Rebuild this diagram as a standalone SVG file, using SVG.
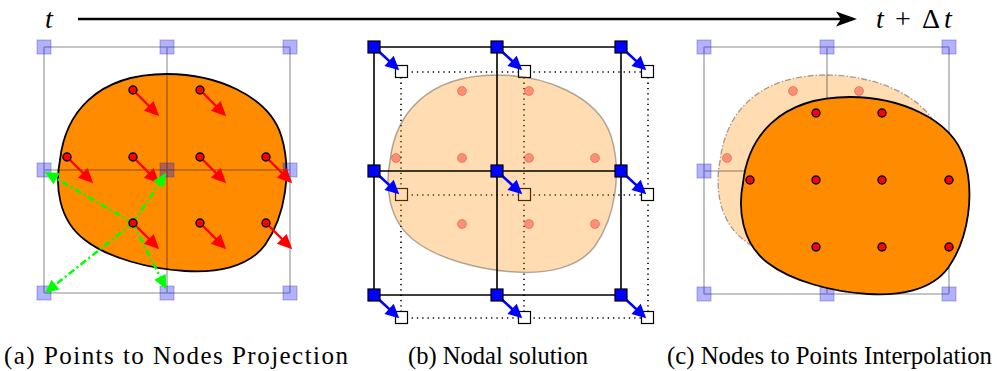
<svg xmlns="http://www.w3.org/2000/svg" width="997" height="371" viewBox="0 0 997 371">
<style>
  .blob { fill:#ff8c00; stroke:#000; stroke-width:1.8; }
  .blobFade { fill:#ff8c00; fill-opacity:0.3; stroke:#000; stroke-opacity:0.3; stroke-width:1.5; }
  .blobGhost { fill:#ff8c00; fill-opacity:0.3; stroke:#000; stroke-opacity:0.35; stroke-width:1.3; stroke-dasharray:6,2,1.5,2; }
  .gridFaint { stroke:#000; stroke-opacity:0.3; stroke-width:1.6; fill:none; }
  .nodeFaint { fill:#0000ff; fill-opacity:0.3; stroke:#3333aa; stroke-opacity:0.3; stroke-width:1.2; }
  .pt { fill:#ff0000; stroke:#000; stroke-width:1.4; }
  .ptFade { fill:#ff0000; fill-opacity:0.35; stroke:#800000; stroke-opacity:0.25; stroke-width:1; }
  .red { stroke:#ff0000; stroke-width:2.4; fill:none; marker-end:url(#ahRed); }
  .green { stroke:#00ff00; stroke-width:2.5; fill:none; stroke-dasharray:7,3,2,3; marker-end:url(#ahGreen); }
  .blue { stroke:#0000ff; stroke-width:2.6; fill:none; marker-end:url(#ahBlue); }
  .gridSolid { stroke:#000; stroke-width:1.6; fill:none; }
  .gridDot { stroke:#000; stroke-width:1.6; fill:none; stroke-dasharray:1.3,4; }
  .nodeBlue { fill:#0000ff; stroke:#000; stroke-width:1.2; }
  .nodeWhite { fill:#fff; stroke:#000; stroke-width:1.2; }
  text { font-family:"Liberation Serif", "DejaVu Serif", "Noto Serif", serif; fill:#000; }
  .math { font-size:28px; }
  .cap { font-size:25px; }
</style>
<defs>
  <path id="blob" d="M167,74 C215,74 268,95 281,135 C292,170 286,215 265,245 C248,268 215,273 185,271 C150,269 108,258 85,240 C58,220 55,185 60,160 C65,115 95,74 167,74 Z"/>
  <marker id="ahRed" markerUnits="userSpaceOnUse" markerWidth="18" markerHeight="18" viewBox="-15 -8 17 16" refX="-5" refY="0" orient="auto">
    <path d="M0,0 L-14,-6.5 L-14,6.5 Z" fill="#ff0000"/>
  </marker>
  <marker id="ahGreen" markerUnits="userSpaceOnUse" markerWidth="18" markerHeight="18" viewBox="-15 -8 17 16" refX="-5" refY="0" orient="auto">
    <path d="M0,0 L-13,-6 L-13,6 Z" fill="#00ff00"/>
  </marker>
  <marker id="ahBlue" markerUnits="userSpaceOnUse" markerWidth="18" markerHeight="18" viewBox="-15 -8 17 16" refX="-5" refY="0" orient="auto">
    <path d="M0,0 L-13,-6.5 L-13,6.5 Z" fill="#0000ff"/>
  </marker>
</defs>

<!-- time axis -->
<g id="time-axis">
  <line x1="78" y1="19" x2="842" y2="19" stroke="#000" stroke-width="2.6"/>
  <path d="M857,19 L836,11.5 L841,19 L836,26.5 Z" fill="#000"/>
  <text class="math" x="45" y="28" font-style="italic">t</text>
  <text class="math" y="28"><tspan x="876" font-style="italic">t</tspan><tspan x="895">+</tspan><tspan x="922">Δ</tspan><tspan x="944" font-style="italic">t</tspan></text>
</g>

<!-- panel (a) -->
<g id="panel-a">
  <use href="#blob" class="blob"/>
  <g id="grid-a" class="gridFaint">
    <path d="M44,47 H290 M44,170 H290 M44,293 H290 M44,47 V293 M167,47 V293 M290,47 V293"/>
  </g>
  <g id="nodes-a">
    <rect class="nodeFaint" x="37" y="40" width="14" height="14"/>
    <rect class="nodeFaint" x="160" y="40" width="14" height="14"/>
    <rect class="nodeFaint" x="283" y="40" width="14" height="14"/>
    <rect class="nodeFaint" x="37" y="163" width="14" height="14"/>
    <rect class="nodeFaint" x="160" y="163" width="14" height="14"/>
    <rect class="nodeFaint" x="283" y="163" width="14" height="14"/>
    <rect class="nodeFaint" x="37" y="286" width="14" height="14"/>
    <rect class="nodeFaint" x="160" y="286" width="14" height="14"/>
    <rect class="nodeFaint" x="283" y="286" width="14" height="14"/>
  </g>
  <g id="connectors-a">
    <path class="red" d="M133,90 L155.5,112.5"/>
    <path class="red" d="M200,90 L222.5,112.5"/>
    <path class="red" d="M67,157 L89.5,179.5"/>
    <path class="red" d="M133,157 L155.5,179.5"/>
    <path class="red" d="M200,157 L222.5,179.5"/>
    <path class="red" d="M266,157 L288.5,179.5"/>
    <path class="red" d="M133,223 L155.5,245.5"/>
    <path class="red" d="M200,223 L222.5,245.5"/>
    <path class="red" d="M266,223 L288.5,245.5"/>
    <path class="green" d="M133,223 L49.3,174.5"/>
    <path class="green" d="M133,223 L163.3,177.2"/>
    <path class="green" d="M133,223 L48.9,289.9"/>
    <path class="green" d="M133,223 L163.9,284.5"/>
  </g>
  <g id="points-a">
    <circle class="pt" cx="133" cy="90" r="4"/>
    <circle class="pt" cx="200" cy="90" r="4"/>
    <circle class="pt" cx="67" cy="157" r="4"/>
    <circle class="pt" cx="133" cy="157" r="4"/>
    <circle class="pt" cx="200" cy="157" r="4"/>
    <circle class="pt" cx="266" cy="157" r="4"/>
    <circle class="pt" cx="133" cy="223" r="4"/>
    <circle class="pt" cx="200" cy="223" r="4"/>
    <circle class="pt" cx="266" cy="223" r="4"/>
  </g>
</g>

<!-- panel (b) -->
<g id="panel-b">
  <g id="grid-b-displaced" class="gridDot">
    <path d="M401,72 H648 M401,195 H648 M401,318 H648 M401,72 V318 M524,72 V318 M648,72 V318"/>
  </g>
  <g id="nodes-b-displaced">
    <rect class="nodeWhite" x="395.5" y="65.5" width="12" height="12"/>
    <rect class="nodeWhite" x="518.5" y="65.5" width="12" height="12"/>
    <rect class="nodeWhite" x="641.5" y="65.5" width="12" height="12"/>
    <rect class="nodeWhite" x="395.5" y="188.5" width="12" height="12"/>
    <rect class="nodeWhite" x="518.5" y="188.5" width="12" height="12"/>
    <rect class="nodeWhite" x="641.5" y="188.5" width="12" height="12"/>
    <rect class="nodeWhite" x="395.5" y="311.5" width="12" height="12"/>
    <rect class="nodeWhite" x="518.5" y="311.5" width="12" height="12"/>
    <rect class="nodeWhite" x="641.5" y="311.5" width="12" height="12"/>
  </g>
  <use href="#blob" class="blobFade" transform="translate(330,1)"/>
  <g id="points-b">
    <circle class="ptFade" cx="462" cy="91" r="4.5"/>
    <circle class="ptFade" cx="529" cy="91" r="4.5"/>
    <circle class="ptFade" cx="396" cy="158" r="4.5"/>
    <circle class="ptFade" cx="462" cy="158" r="4.5"/>
    <circle class="ptFade" cx="529" cy="158" r="4.5"/>
    <circle class="ptFade" cx="595" cy="158" r="4.5"/>
    <circle class="ptFade" cx="462" cy="224" r="4.5"/>
    <circle class="ptFade" cx="529" cy="224" r="4.5"/>
    <circle class="ptFade" cx="595" cy="224" r="4.5"/>
  </g>
  <g id="grid-b" class="gridSolid">
    <path d="M374,47 H621 M374,171 H621 M374,295 H621 M374,47 V295 M497,47 V295 M621,47 V295"/>
  </g>
  <g id="connectors-b">
    <path class="blue" d="M374,47 L395.3,66.6"/>
    <path class="blue" d="M497,47 L518.3,66.6"/>
    <path class="blue" d="M621,47 L642.3,66.6"/>
    <path class="blue" d="M374,171 L395.3,190.6"/>
    <path class="blue" d="M497,171 L518.3,190.6"/>
    <path class="blue" d="M621,171 L642.3,190.6"/>
    <path class="blue" d="M374,295 L395.3,314.6"/>
    <path class="blue" d="M497,295 L518.3,314.6"/>
    <path class="blue" d="M621,295 L642.3,314.6"/>
  </g>
  <g id="nodes-b">
    <rect class="nodeBlue" x="368" y="41" width="12" height="12"/>
    <rect class="nodeBlue" x="491" y="41" width="12" height="12"/>
    <rect class="nodeBlue" x="615" y="41" width="12" height="12"/>
    <rect class="nodeBlue" x="368" y="165" width="12" height="12"/>
    <rect class="nodeBlue" x="491" y="165" width="12" height="12"/>
    <rect class="nodeBlue" x="615" y="165" width="12" height="12"/>
    <rect class="nodeBlue" x="368" y="289" width="12" height="12"/>
    <rect class="nodeBlue" x="491" y="289" width="12" height="12"/>
    <rect class="nodeBlue" x="615" y="289" width="12" height="12"/>
  </g>
</g>

<!-- panel (c) -->
<g id="panel-c">
  <use href="#blob" class="blobGhost" transform="translate(660,1)"/>
  <g id="points-c-old">
    <circle class="ptFade" cx="793" cy="91" r="4.5"/>
    <circle class="ptFade" cx="859" cy="91" r="4.5"/>
    <circle class="ptFade" cx="727" cy="158" r="4.5"/>
  </g>
  <g id="grid-c" class="gridFaint">
    <path d="M704,47 H949 M704,171 H949 M704,294 H949 M704,47 V294 M827,47 V294 M949,47 V294"/>
  </g>
  <g id="nodes-c">
    <rect class="nodeFaint" x="697" y="40" width="14" height="14"/>
    <rect class="nodeFaint" x="820" y="40" width="14" height="14"/>
    <rect class="nodeFaint" x="942" y="40" width="14" height="14"/>
    <rect class="nodeFaint" x="697" y="164" width="14" height="14"/>
    <rect class="nodeFaint" x="942" y="164" width="14" height="14"/>
    <rect class="nodeFaint" x="697" y="287" width="14" height="14"/>
    <rect class="nodeFaint" x="820" y="287" width="14" height="14"/>
    <rect class="nodeFaint" x="942" y="287" width="14" height="14"/>
  </g>
  <use href="#blob" class="blob" transform="translate(683,23)"/>
  <g id="points-c">
    <circle class="pt" cx="816" cy="113" r="4"/>
    <circle class="pt" cx="882" cy="113" r="4"/>
    <circle class="pt" cx="750" cy="180" r="4"/>
    <circle class="pt" cx="816" cy="180" r="4"/>
    <circle class="pt" cx="882" cy="180" r="4"/>
    <circle class="pt" cx="949" cy="180" r="4"/>
    <circle class="pt" cx="816" cy="247" r="4"/>
    <circle class="pt" cx="882" cy="247" r="4"/>
    <circle class="pt" cx="949" cy="247" r="4"/>
  </g>
</g>

<!-- captions -->
<g id="captions">
  <text class="cap" x="4" y="364" textLength="344" lengthAdjust="spacing">(a) Points to Nodes Projection</text>
  <text class="cap" x="408" y="364" textLength="180" lengthAdjust="spacingAndGlyphs">(b) Nodal solution</text>
  <text class="cap" x="667" y="364" textLength="325" lengthAdjust="spacingAndGlyphs" font-size="24">(c) Nodes to Points Interpolation</text>
</g>
</svg>
